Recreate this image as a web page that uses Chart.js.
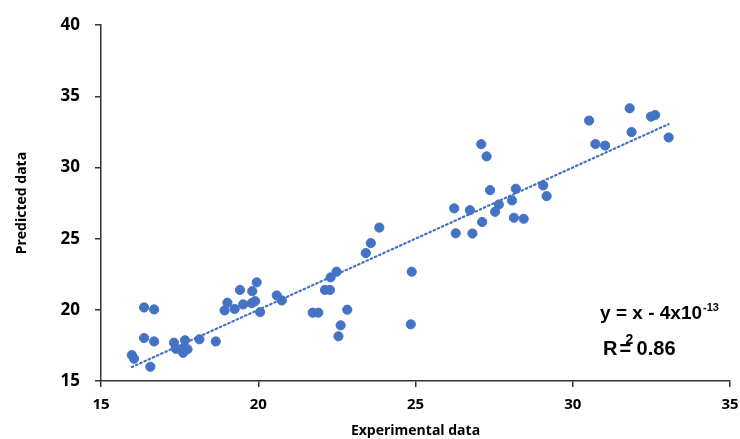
<!DOCTYPE html>
<html>
<head>
<meta charset="utf-8">
<script src="https://cdn.jsdelivr.net/npm/chart.js@4.4.1/dist/chart.umd.min.js"></script>
<style>
  html, body { margin: 0; padding: 0; background: #fff; }
  #canvas { display: block; }
</style>
</head>
<body>
<canvas id="canvas" width="740" height="439"></canvas>
<script>
// experimental vs predicted values
const experimental = [15.98, 16.05, 16.37, 16.69, 16.37, 16.69, 16.57, 17.32, 17.38, 17.67,
    17.64, 17.75, 17.61, 18.13, 18.65, 18.93, 19.02, 19.25, 19.42, 19.52,
    19.79, 19.81, 19.90, 19.95, 20.06, 20.59, 20.75, 21.73, 21.91, 22.12,
    22.28, 22.30, 22.49, 22.83, 22.62, 22.55, 23.42, 23.58, 23.85, 24.88,
    24.85, 26.23, 26.28, 26.73, 26.81, 27.09, 27.26, 27.12, 27.37, 27.53,
    27.65, 28.07, 28.19, 28.13, 28.44, 29.06, 29.17, 30.52, 30.72, 31.03,
    31.81, 31.87, 32.49, 32.62, 33.05];
const predicted = [16.82, 16.57, 20.17, 20.03, 18.02, 17.78, 16.00, 17.69, 17.26, 17.86,
    17.35, 17.23, 16.98, 17.93, 17.78, 19.96, 20.50, 20.06, 21.40, 20.38,
    20.47, 21.31, 20.61, 21.93, 19.84, 21.01, 20.66, 19.80, 19.80, 21.40,
    21.40, 22.28, 22.68, 20.01, 18.91, 18.14, 23.99, 24.69, 25.78, 22.68,
    18.98, 27.13, 25.38, 27.00, 25.36, 31.64, 30.78, 26.17, 28.41, 26.89,
    27.40, 27.69, 28.51, 26.47, 26.40, 28.74, 27.99, 33.30, 31.65, 31.54,
    34.16, 32.49, 33.58, 33.69, 32.11];
const xRange = [15, 35];
const yRange = [15, 40];
const tickStep = 5;

// trend line y = x - 4e-13 over the data range
const slope = 1;
const intercept = -4e-13;
const xMin = Math.min(...experimental);
const xMax = Math.max(...experimental);

const points = experimental.map((v, i) => ({ x: v, y: predicted[i] }));
const trend = [
    { x: xMin, y: slope * xMin + intercept },
    { x: xMax, y: slope * xMax + intercept }
];

const blue = '#4472C4';
const axisColor = '#333333';

const equationLabel = {
    id: 'equationLabel',
    afterDatasetsDraw(chart) {
        const { ctx, scales: { x, y } } = chart;
        ctx.save();
        ctx.fillStyle = '#000';
        ctx.textBaseline = 'alphabetic';
        ctx.textAlign = 'left';

        // line 1: y = x - 4x10^-13
        let px = x.getPixelForValue(30.87);
        let py = y.getPixelForValue(19.38);
        ctx.font = 'bold 19px "Liberation Sans", Arial, sans-serif';
        const main = 'y = x - 4x10';
        ctx.fillText(main, px, py);
        const w = ctx.measureText(main).width;
        ctx.font = 'bold 11px "Liberation Sans", Arial, sans-serif';
        ctx.fillText('-13', px + w + 1, py - 8);

        // line 2: R^2 = 0.86
        px = x.getPixelForValue(30.96);
        py = y.getPixelForValue(16.86);
        ctx.font = 'bold 20px "Liberation Sans", Arial, sans-serif';
        ctx.fillText('R', px, py);
        const rw = ctx.measureText('R').width;
        ctx.fillText('= 0.86', px + rw + 2, py);
        ctx.font = 'bold 14px "Liberation Sans", Arial, sans-serif';
        ctx.fillText('2', px + rw + 8, py - 11);
        ctx.restore();
    }
};

const ctx = document.getElementById('canvas').getContext('2d');
const myChart = new Chart(ctx, {
    type: 'scatter',
    data: {
        datasets: [{
            data: points,
            backgroundColor: blue,
            borderColor: blue,
            pointRadius: 4.6,
            pointHoverRadius: 4.6,
            order: 1
        }, {
            type: 'line',
            data: trend,
            showLine: true,
            borderColor: blue,
            borderWidth: 2.2,
            borderDash: [1.6, 3],
            borderCapStyle: 'round',
            pointRadius: 0,
            fill: false,
            order: 2
        }]
    },
    options: {
        responsive: false,
        animation: false,
        layout: {
            padding: { top: 23, right: 0, bottom: 0, left: 0 }
        },
        plugins: {
            legend: { display: false },
            tooltip: { enabled: false }
        },
        scales: {
            x: {
                type: 'linear',
                min: xRange[0],
                max: xRange[1],
                afterFit: (scale) => {
                    scale.height = 58;
                    scale.paddingLeft = 10;
                    scale.paddingRight = 10;
                },
                ticks: {
                    stepSize: tickStep,
                    padding: 9,
                    color: '#000',
                    font: { family: '"Open Sans", sans-serif', size: 15, weight: 'bold' }
                },
                grid: {
                    drawOnChartArea: false,
                    drawTicks: true,
                    tickLength: 6,
                    color: axisColor,
                    lineWidth: 1.5
                },
                border: { display: true, color: axisColor, width: 1.5 },
                title: {
                    display: true,
                    text: 'Experimental data',
                    color: '#000',
                    padding: { top: 0, bottom: 0 },
                    font: { family: '"Open Sans", sans-serif', size: 14, weight: 'bold' }
                }
            },
            y: {
                type: 'linear',
                min: yRange[0],
                max: yRange[1],
                afterFit: (scale) => { scale.width = 101; },
                ticks: {
                    stepSize: tickStep,
                    padding: 15,
                    color: '#000',
                    font: { family: '"Open Sans", sans-serif', size: 17, weight: 'bold' }
                },
                grid: {
                    drawOnChartArea: false,
                    drawTicks: true,
                    tickLength: 6,
                    color: axisColor,
                    lineWidth: 1.5
                },
                border: { display: true, color: axisColor, width: 1.5 },
                title: {
                    display: true,
                    text: 'Predicted data',
                    color: '#000',
                    padding: { top: 14, bottom: 0 },
                    font: { family: '"Open Sans", sans-serif', size: 14, weight: 'bold' }
                }
            }
        }
    },
    plugins: [equationLabel]
});
</script>
</body>
</html>
